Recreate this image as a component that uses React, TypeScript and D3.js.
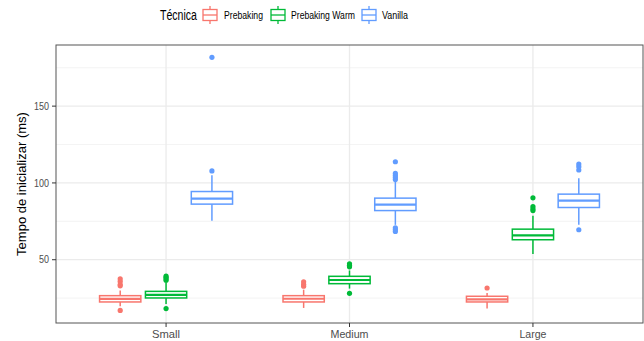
import React from "react";
import * as d3 from "d3";

// Startup time per dataset size, grouped by technique
const categories = ["Small", "Medium", "Large"];
const techniques = ["Prebaking", "Prebaking Warm", "Vanilla"];
const colors = ["#F8766D", "#00BA38", "#619CFF"];

// [lower whisker, Q1, median, Q3, upper whisker] for Small, Medium, Large
const prebakingStats = [
  [19.7, 22.5, 24.5, 26.6, 29.9],
  [18.6, 22.5, 24.6, 26.6, 30.5],
  [18.2, 22.5, 24.2, 26.2, 28.4],
];
const prebakingWarmStats = [
  [21.2, 25.1, 27.1, 29.4, 34.8],
  [31.2, 34.4, 36.8, 39.2, 43.0],
  [53.7, 63.0, 65.8, 69.9, 78.6],
];
const vanillaStats = [
  [75.3, 86.2, 89.8, 94.4, 105.0],
  [72.7, 82.0, 85.9, 90.1, 100.8],
  [72.7, 84.0, 88.5, 92.7, 103.0],
];

// Outlying observations for Small, Medium, Large
const prebakingOutliers = [
  [17.0, 33.0, 33.8, 35.9, 37.6],
  [32.8, 34.0, 35.6],
  [31.6],
];
const prebakingWarmOutliers = [
  [18.2, 36.6, 37.6, 38.6, 39.4],
  [28.1, 45.4, 46.4, 47.3],
  [82.0, 83.2, 84.6, 90.3],
];
const vanillaOutliers = [
  [107.8, 181.8],
  [68.4, 69.6, 70.8, 102.2, 103.6, 104.8, 106.2, 113.8],
  [69.5, 108.4, 110.6, 112.3],
];

const yTicks = [50, 100, 150];
const yMinorTicks = [25, 75, 125, 175];

const stats = [prebakingStats, prebakingWarmStats, vanillaStats];
const outliers = [prebakingOutliers, prebakingWarmOutliers, vanillaOutliers];

const W = 644;
const H = 341;
const panel = { left: 56, right: 643, top: 45, bottom: 323 };
const font = "'Liberation Sans', Arial, Helvetica, sans-serif";

// horizontal text is set slightly condensed
const condensed = (s: string, size: number) => {
  const widths: Record<string, number> = {
    "Técnica": 37,
    Prebaking: 39,
    "Prebaking Warm": 64,
    Vanilla: 26,
    Small: 28,
    Medium: 38,
    Large: 27,
    "50": 10,
    "100": 15,
    "150": 15,
  };
  return widths[s] ?? s.length * size * 0.45;
};

export default function App() {
  const x = d3
    .scaleLinear()
    .domain([-0.6, categories.length - 1 + 0.6])
    .range([panel.left, panel.right]);
  const y = d3.scaleLinear().domain([8.8, 189.8]).range([panel.bottom, panel.top]);

  const dodge = 0.25;
  const boxW = x(0.225) - x(0);

  const boxes: React.ReactNode[] = [];
  categories.forEach((_, ci) => {
    techniques.forEach((_, ti) => {
      const [lo, q1, med, q3, hi] = stats[ti][ci];
      const cx = x(ci + (ti - 1) * dodge);
      const col = colors[ti];
      boxes.push(
        <g key={`${ci}-${ti}`} stroke={col} fill="none" strokeWidth={1.5}>
          <line x1={cx} x2={cx} y1={y(hi)} y2={y(q3)} />
          <line x1={cx} x2={cx} y1={y(q1)} y2={y(lo)} />
          <rect x={cx - boxW / 2} y={y(q3)} width={boxW} height={y(q1) - y(q3)} fill="#fff" />
          <line x1={cx - boxW / 2} x2={cx + boxW / 2} y1={y(med)} y2={y(med)} strokeWidth={2.2} />
          {outliers[ti][ci].map((v, k) => (
            <circle key={k} cx={cx} cy={y(v)} r={2.6} fill={col} stroke="none" />
          ))}
        </g>
      );
    });
  });

  // legend layout
  const legendY = 15;
  const legendItems = [
    { keyX: 202, textX: 224 },
    { keyX: 270, textX: 291 },
    { keyX: 361, textX: 382 },
  ];

  return (
    <svg
      width={W}
      height={H}
      style={{ position: "absolute", left: 0, top: 0, background: "#fff" }}
      fontFamily={font}
    >
      <rect x={0} y={0} width={W} height={H} fill="#fff" />
      {/* grid */}
      {yMinorTicks.map((t) => (
        <line key={`m${t}`} x1={panel.left} x2={panel.right} y1={y(t)} y2={y(t)} stroke="#F0F0F0" strokeWidth={0.8} />
      ))}
      {yTicks.map((t) => (
        <line key={`M${t}`} x1={panel.left} x2={panel.right} y1={y(t)} y2={y(t)} stroke="#EBEBEB" strokeWidth={1.3} />
      ))}
      {categories.map((c, i) => (
        <line key={c} x1={x(i)} x2={x(i)} y1={panel.top} y2={panel.bottom} stroke="#EBEBEB" strokeWidth={1.3} />
      ))}

      {boxes}

      {/* panel border */}
      <rect
        x={panel.left}
        y={panel.top}
        width={panel.right - panel.left}
        height={panel.bottom - panel.top}
        fill="none"
        stroke="#555555"
        strokeWidth={1}
      />

      {/* y axis */}
      {yTicks.map((t) => (
        <g key={`yt${t}`}>
          <line x1={panel.left - 4} x2={panel.left} y1={y(t)} y2={y(t)} stroke="#333" strokeWidth={1} />
          <text
            x={panel.left - 7}
            y={y(t)}
            dy="0.35em"
            textAnchor="end"
            fontSize={10.5}
            fill="#4D4D4D"
            textLength={condensed(String(t), 10.5)}
            lengthAdjust="spacingAndGlyphs"
          >
            {t}
          </text>
        </g>
      ))}
      <text
        transform={`translate(21,${(panel.top + panel.bottom) / 2}) rotate(-90)`}
        textAnchor="middle"
        fontSize={13}
        fill="#000"
        dy="0.35em"
      >
        Tempo de inicializar (ms)
      </text>

      {/* x axis */}
      {categories.map((c, i) => (
        <g key={`xt${c}`}>
          <line x1={x(i)} x2={x(i)} y1={panel.bottom} y2={panel.bottom + 4} stroke="#333" strokeWidth={1} />
          <text
            x={x(i)}
            y={panel.bottom + 15}
            textAnchor="middle"
            fontSize={11.5}
            fill="#4D4D4D"
            textLength={condensed(c, 11.5)}
            lengthAdjust="spacingAndGlyphs"
          >
            {c}
          </text>
        </g>
      ))}

      {/* legend */}
      <text
        x={160}
        y={legendY}
        dy="0.35em"
        fontSize={14}
        fill="#000"
        textLength={condensed("Técnica", 14)}
        lengthAdjust="spacingAndGlyphs"
      >
        Técnica
      </text>
      {techniques.map((t, i) => {
        const kx = legendItems[i].keyX;
        const kc = kx + 8;
        const col = colors[i];
        return (
          <g key={t}>
            <g stroke={col} fill="none" strokeWidth={1.3}>
              <line x1={kc} x2={kc} y1={legendY - 9} y2={legendY + 9} />
              <rect x={kx + 1} y={legendY - 5.5} width={14} height={11} fill="#fff" />
              <line x1={kx + 1} x2={kx + 15} y1={legendY} y2={legendY} />
            </g>
            <text
              x={legendItems[i].textX}
              y={legendY}
              dy="0.35em"
              fontSize={11.5}
              fill="#000"
              textLength={condensed(t, 11.5)}
              lengthAdjust="spacingAndGlyphs"
            >
              {t}
            </text>
          </g>
        );
      })}
    </svg>
  );
}
